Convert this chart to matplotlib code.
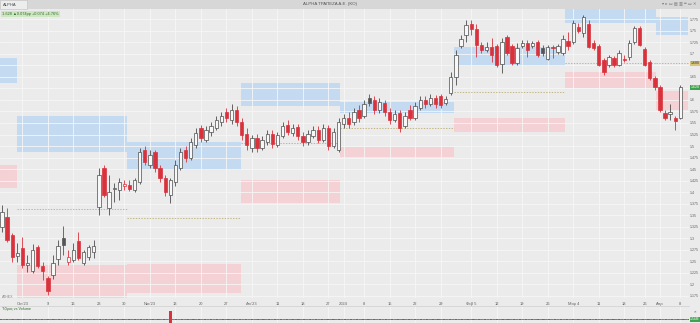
import numpy as np
import matplotlib
matplotlib.use('Agg')
import matplotlib.pyplot as plt
from matplotlib.patches import Rectangle

plt.rcParams['font.family'] = ['Liberation Sans', 'DejaVu Sans']

# daily candles (price, EUR)
opens = [1.324, 1.346, 1.307, 1.261, 1.278, 1.241, 1.228, 1.280, 1.239, 1.213,
         1.220, 1.254, 1.300, 1.248, 1.252, 1.293, 1.246, 1.259, 1.270, 1.367,
         1.452, 1.365, 1.407, 1.404, 1.413, 1.415, 1.404, 1.422, 1.491, 1.459,
         1.487, 1.452, 1.430, 1.393, 1.422, 1.452, 1.491, 1.474, 1.502, 1.539,
         1.513, 1.530, 1.539, 1.552, 1.574, 1.557, 1.578, 1.552, 1.526, 1.496,
         1.517, 1.496, 1.509, 1.526, 1.502, 1.522, 1.546, 1.528, 1.541, 1.522,
         1.509, 1.522, 1.535, 1.513, 1.539, 1.500, 1.491, 1.548, 1.561, 1.552,
         1.578, 1.565, 1.604, 1.600, 1.578, 1.593, 1.574, 1.557, 1.572, 1.543,
         1.578, 1.561, 1.583, 1.600, 1.591, 1.604, 1.609, 1.593, 1.615, 1.650,
         1.717, 1.741, 1.765, 1.754, 1.720, 1.709, 1.715, 1.717, 1.678, 1.737,
         1.717, 1.680, 1.717, 1.724, 1.717, 1.726, 1.713, 1.689, 1.715, 1.704,
         1.702, 1.728, 1.726, 1.759, 1.746, 1.765, 1.724, 1.717, 1.687, 1.676,
         1.691, 1.676, 1.689, 1.693, 1.726, 1.757, 1.711, 1.683, 1.648, 1.628,
         1.572, 1.570, 1.561, 1.561]
highs = [1.372, 1.365, 1.311, 1.289, 1.302, 1.263, 1.287, 1.285, 1.248, 1.217,
         1.263, 1.296, 1.326, 1.274, 1.289, 1.313, 1.274, 1.285, 1.296, 1.452,
         1.459, 1.437, 1.420, 1.430, 1.426, 1.426, 1.430, 1.496, 1.500, 1.491,
         1.491, 1.459, 1.437, 1.430, 1.470, 1.496, 1.500, 1.517, 1.539, 1.546,
         1.543, 1.552, 1.565, 1.574, 1.583, 1.591, 1.587, 1.561, 1.539, 1.524,
         1.526, 1.522, 1.535, 1.535, 1.530, 1.552, 1.557, 1.548, 1.548, 1.530,
         1.535, 1.543, 1.543, 1.548, 1.546, 1.539, 1.561, 1.570, 1.574, 1.583,
         1.589, 1.600, 1.613, 1.609, 1.604, 1.600, 1.583, 1.578, 1.578, 1.574,
         1.589, 1.596, 1.609, 1.609, 1.613, 1.611, 1.613, 1.609, 1.661, 1.709,
         1.741, 1.774, 1.774, 1.765, 1.726, 1.726, 1.735, 1.722, 1.735, 1.741,
         1.722, 1.724, 1.730, 1.730, 1.728, 1.730, 1.720, 1.720, 1.720, 1.722,
         1.741, 1.748, 1.774, 1.767, 1.785, 1.774, 1.730, 1.722, 1.691, 1.698,
         1.696, 1.709, 1.698, 1.730, 1.761, 1.761, 1.715, 1.687, 1.652, 1.633,
         1.578, 1.591, 1.565, 1.633]
lows = [1.313, 1.291, 1.248, 1.248, 1.235, 1.226, 1.224, 1.235, 1.209, 1.176,
        1.211, 1.241, 1.263, 1.241, 1.248, 1.252, 1.241, 1.252, 1.257, 1.350,
        1.389, 1.350, 1.378, 1.383, 1.404, 1.402, 1.400, 1.417, 1.459, 1.452,
        1.443, 1.422, 1.391, 1.376, 1.413, 1.448, 1.465, 1.470, 1.496, 1.509,
        1.509, 1.522, 1.535, 1.543, 1.552, 1.548, 1.543, 1.513, 1.491, 1.487,
        1.487, 1.491, 1.502, 1.496, 1.498, 1.517, 1.524, 1.522, 1.513, 1.500,
        1.502, 1.517, 1.507, 1.509, 1.491, 1.496, 1.487, 1.539, 1.539, 1.546,
        1.552, 1.561, 1.587, 1.570, 1.572, 1.565, 1.548, 1.552, 1.530, 1.539,
        1.557, 1.557, 1.578, 1.583, 1.587, 1.583, 1.583, 1.589, 1.611, 1.633,
        1.713, 1.726, 1.741, 1.693, 1.702, 1.704, 1.683, 1.672, 1.659, 1.698,
        1.676, 1.676, 1.713, 1.693, 1.713, 1.693, 1.696, 1.687, 1.691, 1.700,
        1.698, 1.709, 1.722, 1.746, 1.737, 1.713, 1.709, 1.674, 1.654, 1.672,
        1.672, 1.674, 1.683, 1.687, 1.722, 1.717, 1.674, 1.643, 1.622, 1.574,
        1.557, 1.557, 1.535, 1.559]
closes = [1.357, 1.296, 1.259, 1.267, 1.241, 1.246, 1.274, 1.239, 1.228, 1.185,
          1.246, 1.283, 1.285, 1.259, 1.274, 1.257, 1.270, 1.280, 1.283, 1.437,
          1.393, 1.400, 1.409, 1.422, 1.417, 1.407, 1.426, 1.487, 1.465, 1.480,
          1.452, 1.430, 1.400, 1.426, 1.459, 1.487, 1.474, 1.509, 1.528, 1.517,
          1.535, 1.543, 1.557, 1.565, 1.561, 1.578, 1.552, 1.524, 1.502, 1.517,
          1.496, 1.513, 1.526, 1.504, 1.524, 1.543, 1.530, 1.539, 1.522, 1.509,
          1.526, 1.535, 1.513, 1.539, 1.500, 1.530, 1.552, 1.561, 1.548, 1.574,
          1.561, 1.591, 1.593, 1.578, 1.596, 1.574, 1.557, 1.570, 1.539, 1.565,
          1.561, 1.587, 1.600, 1.591, 1.604, 1.591, 1.589, 1.602, 1.650, 1.698,
          1.733, 1.763, 1.754, 1.720, 1.709, 1.715, 1.698, 1.676, 1.726, 1.702,
          1.680, 1.713, 1.724, 1.709, 1.724, 1.698, 1.702, 1.715, 1.713, 1.717,
          1.733, 1.717, 1.767, 1.750, 1.780, 1.715, 1.713, 1.676, 1.661, 1.693,
          1.676, 1.702, 1.687, 1.724, 1.757, 1.720, 1.676, 1.648, 1.628, 1.578,
          1.561, 1.574, 1.554, 1.628]

# date axis (candle index, label)
tick_idx = [4, 9, 14, 19, 24, 29, 34, 39, 44, 49, 54, 59, 64, 67, 71, 76, 81,
            86, 92, 97, 102, 107, 112, 117, 122, 126, 129, 133]
tick_lab = ["Οκτ'23", "9", "16", "23", "30", "Νοε'23", "13", "20", "27",
            "Δεκ'23", "11", "18", "27", "2024", "8", "15", "22", "29", "Φεβ 5",
            "12", "19", "26", "Μαρ 4", "11", "18", "26", "Απρ", "8"]

# monthly zones: edges in candle index, resistance (blue), support (red), pivot
month_edges = [-1.0, 2.9, 24.5, 46.8, 66.2, 88.6, 110.4, 128.3, 134.5]
res_lo = [1.637, 1.487, 1.448, 1.587, 1.572, 1.674, 1.767, 1.741]
res_hi = [1.691, 1.565, 1.509, 1.637, 1.596, 1.715, 1.800, 1.780]
sup_lo = [1.409, 1.150, 1.180, 1.376, 1.476, 1.530, 1.626, 1.578]
sup_hi = [1.459, 1.241, 1.243, 1.426, 1.498, 1.561, 1.661, 1.620]
pivot = [np.nan, 1.363, 1.343, 1.507, 1.539, 1.617, 1.680, 1.680]

vol_idx = [33]
vol_val = [1.0]

bg = '#ebebeb'
grid_c = '#f6f6f6'
red = '#d9323c'
blue_box = '#c4daf0'
pink_box = '#f3d1d4'

fig = plt.figure(figsize=(7, 3.23), dpi=100)
fig.patch.set_facecolor(bg)

W, H = 700.0, 323.0
ax = fig.add_axes([0, 25 / H, 689 / W, 289 / H])
ax.set_facecolor(bg)
n = len(closes)
x = np.arange(n)

ax.set_xlim(-0.39, 134.7)
ax.set_ylim(1.1696, 1.7978)

yt = np.arange(1.175, 1.80, 0.025)
ylabs = []
for v in yt:
    # the two tags on the right cover these levels
    if abs(v - 1.675) < 1e-6 or abs(v - 1.625) < 1e-6:
        ylabs.append('')
    else:
        ylabs.append(('%.3f' % v).rstrip('0'))
ax.set_yticks(yt)
ax.set_yticklabels(ylabs)
ax.yaxis.tick_right()
ax.set_xticks(tick_idx)
ax.set_xticklabels(tick_lab)
ax.tick_params(axis='x', length=0, labelsize=2.9, colors='#606060', pad=3)
ax.tick_params(axis='y', length=0, labelsize=2.6, colors='#606060', pad=0.8)
ax.grid(True, color=grid_c, lw=0.6, zorder=0)
ax.set_axisbelow(True)
for s in ax.spines.values():
    s.set_visible(False)

# monthly zones
for k in range(len(res_lo)):
    a, b = month_edges[k], month_edges[k + 1]
    ax.add_patch(Rectangle((a, res_lo[k]), b - a, res_hi[k] - res_lo[k],
                           facecolor=blue_box, edgecolor='none', zorder=0.5))
    ax.add_patch(Rectangle((a, sup_lo[k]), b - a, sup_hi[k] - sup_lo[k],
                           facecolor=pink_box, edgecolor='none', zorder=0.5))
    if not np.isnan(pivot[k]):
        ax.hlines(pivot[k], a, b, colors='#b3a25e', lw=0.5,
                  linestyles=(0, (2, 2)), zorder=1)

# hollow candles
o = np.array(opens); c = np.array(closes)
prev = np.concatenate([[o[0]], c[:-1]])
face, edge = [], []
for i in range(n):
    up_day = c[i] >= prev[i]
    if c[i] >= o[i]:
        face.append('#f7f7f7')
        edge.append('#4d4d4d' if up_day else red)
    else:
        col = '#555555' if up_day else red
        face.append(col)
        edge.append(col)

ax.vlines(x, lows, highs, colors=edge, lw=0.6, zorder=2)
body_lo = np.minimum(o, c)
body_h = np.maximum(np.abs(c - o), 0.0015)
ax.bar(x, body_h, bottom=body_lo, width=0.66, color=face, edgecolor=edge,
       linewidth=0.5, zorder=3)

# right-side price tags
ax.text(1.002, pivot[-1], '%.3f' % pivot[-1], transform=ax.get_yaxis_transform(),
        fontsize=2.6, color='#333333', va='center', ha='left', clip_on=False,
        bbox=dict(boxstyle='square,pad=0.15', fc='#d8c57a', ec='none'))
ax.text(1.002, closes[-1], '%.3f' % closes[-1], transform=ax.get_yaxis_transform(),
        fontsize=2.6, color='white', va='center', ha='left', clip_on=False,
        bbox=dict(boxstyle='square,pad=0.15', fc='#3fa34d', ec='none'))

# title bar
fig.patches.append(Rectangle((0, 1 - 9 / H), 1, 9 / H, transform=fig.transFigure,
                             facecolor='#d7d7d7', edgecolor='none', zorder=5))
fig.patches.append(Rectangle((0, 1 - 9 / H), 27 / W, 9 / H, transform=fig.transFigure,
                             facecolor='#ededed', edgecolor='#c0c0c0', lw=0.4, zorder=6))
fig.text(3 / W, 1 - 4.5 / H, 'ALPHA', fontsize=3.0, color='#444444', va='center', zorder=7)
fig.text(330 / W, 1 - 4.5 / H, 'ALPHA ΤΡΑΠΕΖΑ Α.Ε. (ΚΟ)', fontsize=3.2, color='#555555',
         va='center', ha='center', zorder=7)
fig.text(697 / W, 1 - 4.5 / H, '▾ ▸ ▭ ▤ ▥ ═ ▭ ✕', fontsize=3.0, color='#777777',
         va='center', ha='right', zorder=7, family='DejaVu Sans')

# info line
fig.text(2 / W, 1 - 14 / H, '1.628 ▲0.074pp +0.074 +4.76%', fontsize=2.8, color='#2f6b2a',
         va='center', ha='left', zorder=7,
         bbox=dict(boxstyle='square,pad=0.3', fc='#cfe6c2', ec='none'))
fig.text(2 / W, 26 / H, 'ATHEX', fontsize=2.6, color='#888888', va='center')

# lower pane
ax2 = fig.add_axes([0, 0, 689 / W, 17 / H])
ax2.set_facecolor(bg)
ax2.set_xlim(ax.get_xlim())
ax2.set_ylim(0, 1.4)
ax2.bar(vol_idx, vol_val, width=0.66, color=red, zorder=3)
ax2.hlines(0.3, -1, 136, colors=red, lw=0.7, linestyles=(0, (3, 3)))
ax2.hlines(0.3, -1, 136, colors='#3fa34d', lw=0.7, linestyles=(3, (3, 3)))
ax2.set_xticks(tick_idx)
ax2.set_yticks([])
ax2.tick_params(axis='x', length=0, labelbottom=False)
ax2.grid(True, axis='x', color=grid_c, lw=0.6)
ax2.set_axisbelow(True)
for s in ax2.spines.values():
    s.set_visible(False)
ax2.spines['top'].set_visible(True)
ax2.spines['top'].set_color('#cfcfcf')
ax2.spines['top'].set_linewidth(0.5)
ax2.text(0.003, 0.85, 'Τζίρος vs Volume', transform=ax2.transAxes, fontsize=2.7,
         color='#2f6b2a', va='center')
fig.text(690 / W, 4 / H, '1.54M', fontsize=2.4, color='white', va='center',
         bbox=dict(boxstyle='square,pad=0.15', fc='#3fa34d', ec='none'))
fig.text(694 / W, 12 / H, '×', fontsize=3.2, color='#555555', va='center')

fig.savefig('out.png', dpi=100, facecolor=bg)
